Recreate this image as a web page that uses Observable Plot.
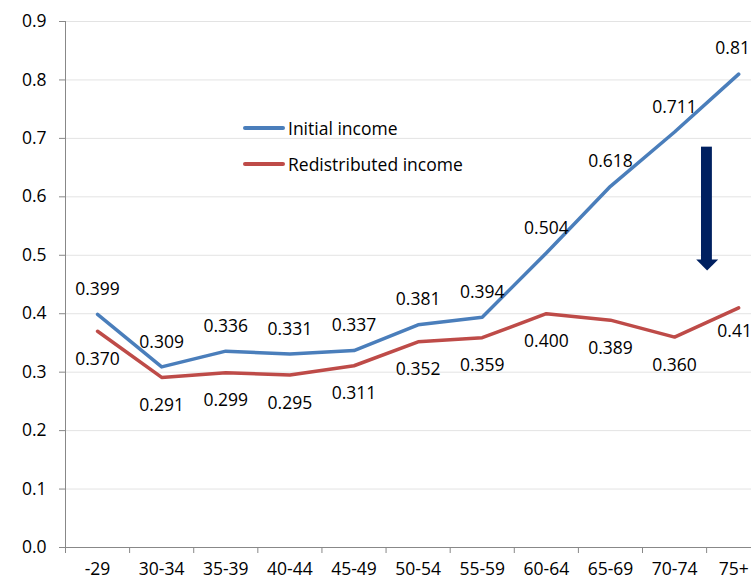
<!DOCTYPE html>
<html>
<head>
<meta charset="utf-8">
<script src="https://cdn.jsdelivr.net/npm/d3@7"></script>
<script src="https://cdn.jsdelivr.net/npm/@observablehq/plot@0.6"></script>
<style>
  html, body { margin: 0; padding: 0; background: #fff; }
  #wrap { position: relative; width: 751px; height: 580px; overflow: hidden; font-family: "Open Sans", sans-serif; }
  .leg { position: absolute; display: flex; align-items: center; font-size: 17.5px; color: #000; white-space: nowrap; }
  .leg span.sw { display: inline-block; width: 42px; height: 4px; border-radius: 2px; margin-right: 3px; }
</style>
</head>
<body>
<div id="wrap"></div>
<script>
const categories = ["-29","30-34","35-39","40-44","45-49","50-54","55-59","60-64","65-69","70-74","75+"];
const initialIncome = [0.399,0.309,0.336,0.331,0.337,0.381,0.394,0.504,0.618,0.711,0.81];
const redistributedIncome = [0.370,0.291,0.299,0.295,0.311,0.352,0.359,0.400,0.389,0.360,0.41];
const initialLabels = ["0.399","0.309","0.336","0.331","0.337","0.381","0.394","0.504","0.618","0.711","0.81"];
const redistributedLabels = ["0.370","0.291","0.299","0.295","0.311","0.352","0.359","0.400","0.389","0.360","0.41"];
const yTicks = [0,0.1,0.2,0.3,0.4,0.5,0.6,0.7,0.8,0.9];
const seriesNames = ["Initial income","Redistributed income"];
const seriesColors = ["#4A7EBB","#BE4B48"];
const arrowColor = "#002060";
// arrow annotation (category index units, value units)
const arrowShaft = [{x1: 9.42, x2: 9.59, y1: 0.49, y2: 0.685}];
const arrowHead = [{x: 9.345, y1: 0.492, y2: 0.492},{x: 9.516, y1: 0.492, y2: 0.473},{x: 9.688, y1: 0.492, y2: 0.492}];

const idx = categories.map((c,i)=>i);
const blue = idx.map(i=>({i, v: initialIncome[i], t: initialLabels[i], last: i===10}));
const red = idx.map(i=>({i, v: redistributedIncome[i], t: redistributedLabels[i], last: i===10}));

const chart = Plot.plot({
  width: 751, height: 580,
  marginLeft: 65, marginRight: 0, marginTop: 21, marginBottom: 33,
  x: {domain: [-0.5, 10.2], axis: null},
  y: {domain: [0, 0.9], axis: null},
  style: {fontFamily: "'Open Sans', sans-serif", fontSize: "17.5px", color: "#000", background: "#fff"},
  marks: [
    Plot.gridY(yTicks.filter(d=>d>0), {stroke: "#e3e3e3", strokeOpacity: 1, strokeWidth: 1}),
    Plot.ruleX([-0.5], {stroke: "#888"}),
    Plot.ruleY([0], {stroke: "#888"}),
    Plot.axisY({ticks: yTicks, tickSize: 6, tickPadding: 13, stroke: "#888", fill: "#000", tickFormat: d3.format(".1f"), fontSize: 17.5}),
    Plot.axisX({ticks: d3.range(-0.5, 10.5, 1), tickSize: 6, stroke: "#888", fill: "none"}),
    Plot.axisX({ticks: idx.slice(0, 10), tickSize: 0, tickPadding: 15, fill: "#000", tickFormat: i => categories[i], fontSize: 17.5}),
    Plot.axisX({ticks: idx.slice(10), tickSize: 0, tickPadding: 15, fill: "#000", tickFormat: i => categories[i], fontSize: 17.5, textAnchor: "end", dx: 10}),
    Plot.line(blue, {x: "i", y: "v", stroke: seriesColors[0], strokeWidth: 3.5, strokeLinejoin: "round"}),
    Plot.line(red, {x: "i", y: "v", stroke: seriesColors[1], strokeWidth: 3.5, strokeLinejoin: "round"}),
    Plot.text(blue.filter(d=>!d.last), {x: "i", y: "v", text: "t", dy: -25, fill: "#000"}),
    Plot.text(blue.filter(d=>d.last), {x: "i", y: "v", text: "t", dy: -26, dx: -6, fill: "#000"}),
    Plot.text(red.filter(d=>!d.last), {x: "i", y: "v", text: "t", dy: 28, fill: "#000"}),
    Plot.text(red.filter(d=>d.last), {x: "i", y: "v", text: "t", dy: 24, dx: -4, fill: "#000"}),
    Plot.rect(arrowShaft, {x1: "x1", x2: "x2", y1: "y1", y2: "y2", fill: arrowColor}),
    Plot.areaY(arrowHead, {x: "x", y1: "y1", y2: "y2", fill: arrowColor})
  ]
});

const wrap = document.getElementById("wrap");
wrap.appendChild(chart);
const legendTops = [116, 152];
seriesNames.forEach((name, k) => {
  const d = document.createElement("div");
  d.className = "leg";
  d.style.left = "243px";
  d.style.top = legendTops[k] + "px";
  d.innerHTML = `<span class="sw" style="background:${seriesColors[k]}"></span>${name}`;
  wrap.appendChild(d);
});
</script>
</body>
</html>
